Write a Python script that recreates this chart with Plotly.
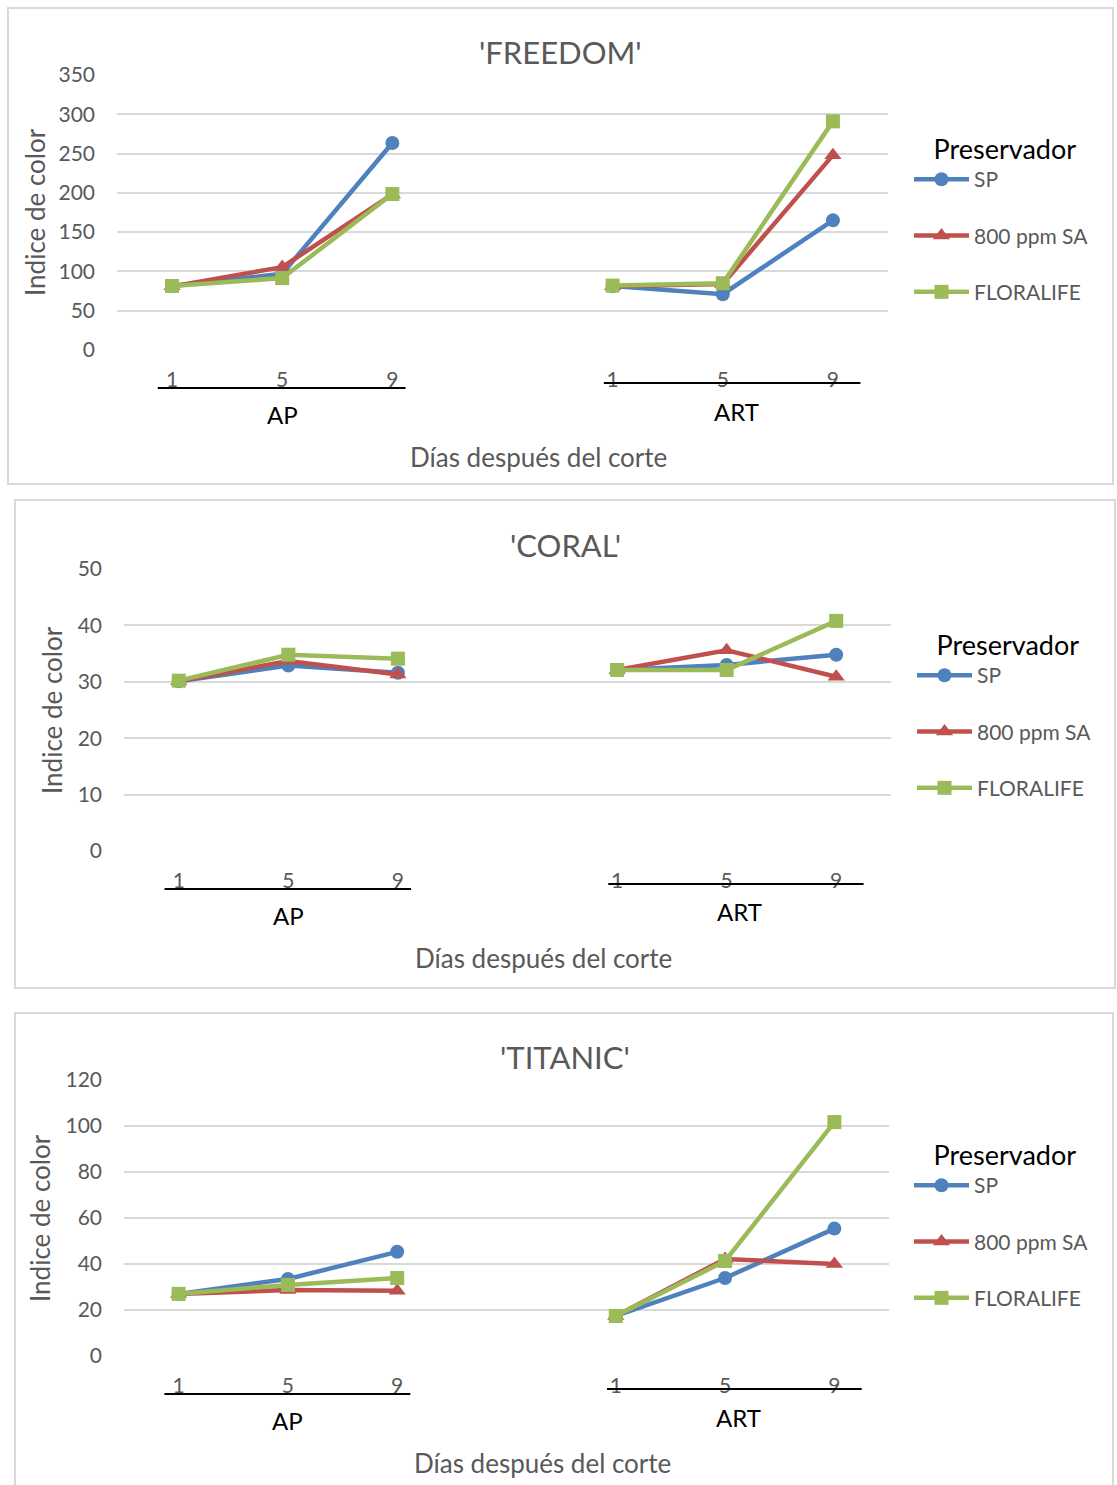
import plotly.graph_objects as go

W, H = 1117, 1485
FONT = "Lato"
GREY = "#595959"
GRID = "#D9D9D9"

# ---------------- data ----------------
groups = ["AP", "ART"]
days = ["1", "5", "9"]
series = ["SP", "800 ppm SA", "FLORALIFE"]
colors = ["#4F81BD", "#C0504D", "#9BBB59"]
symbols = ["circle", "triangle-up", "square"]

titles = ["'FREEDOM'", "'CORAL'", "'TITANIC'"]

freedom_sp = [81.5, 97, 263.5, 81.5, 71, 165]
freedom_sa = [81, 105.5, 198, 81, 84, 248]
freedom_fl = [81.5, 91.5, 198.5, 82, 85, 291]

coral_sp = [30.1, 32.9, 31.6, 32.1, 33.0, 34.8]
coral_sa = [30.1, 33.7, 31.3, 32.1, 35.6, 30.9]
coral_fl = [30.2, 34.8, 34.1, 32.1, 32.1, 40.8]

titanic_sp = [27.0, 33.5, 45.3, 17.4, 33.9, 55.4]
titanic_sa = [27.0, 28.7, 28.4, 17.4, 42.2, 40.0]
titanic_fl = [27.0, 30.9, 33.9, 17.4, 41.3, 101.7]

panel_data = [
    [freedom_sp, freedom_sa, freedom_fl],
    [coral_sp, coral_sa, coral_fl],
    [titanic_sp, titanic_sa, titanic_fl],
]
y_max = [350, 50, 120]
y_step = [50, 10, 20]

# ---------------- layout geometry (target page pixels) ----------------
plot_px = [
    (117, 888, 75, 350),
    (124, 891, 569, 851),
    (124, 889, 1080, 1356),
]
boxes = [(8, 8, 1113, 484), (15, 500, 1115, 988), (15, 1013, 1113, 1500)]
title_px = [(560, 52), (565, 545), (565, 1057)]
ytitle_px = [(35, 212), (52, 710), (40, 1218)]
legend_px = [(909, 124), (912, 620), (909, 1130)]


def fx(p):
    return p / W


def fy(p):
    return 1 - p / H


fig = go.Figure()
shapes = []
annotations = []

for i in range(3):
    x0, x1, yt, yb = plot_px[i]
    xa = "xaxis" if i == 0 else f"xaxis{i+1}"
    ya = "yaxis" if i == 0 else f"yaxis{i+1}"
    xr = "x" if i == 0 else f"x{i+1}"
    yr = "y" if i == 0 else f"y{i+1}"
    lg = "legend" if i == 0 else f"legend{i+1}"

    # x positions: categories of each group, with an empty slot between groups
    xs, labels = [], []
    for g in range(len(groups)):
        for d in range(len(days)):
            xs.append(g * (len(days) + 1) + d)
            labels.append(days[d])
    ncat = len(groups) * (len(days) + 1) - 1

    for s in range(3):
        vals = panel_data[i][s]
        px_, py_ = [], []
        for g in range(len(groups)):
            if g > 0:
                px_.append(g * (len(days) + 1) - 1)
                py_.append(None)
            for d in range(len(days)):
                px_.append(xs[g * len(days) + d])
                py_.append(vals[g * len(days) + d])
        fig.add_trace(go.Scatter(
            x=px_, y=py_, mode="lines+markers", name=series[s],
            line=dict(color=colors[s], width=4.5),
            marker=dict(symbol=symbols[s], size=14 if s != 1 else 15, color=colors[s]),
            connectgaps=False, xaxis=xr, yaxis=yr, legend=lg,
            legendgroup=f"{i}-{s}", showlegend=True,
        ))

    fig.layout[xa] = dict(
        domain=[fx(x0), fx(x1)], range=[-0.5, ncat - 0.5], anchor=yr,
        tickvals=xs, ticktext=labels, showgrid=False, zeroline=False,
        showline=False, ticks="", ticklabelstandoff=15, automargin=False,
        tickfont=dict(family=FONT, size=21, color=GREY), fixedrange=True,
    )
    fig.layout[ya] = dict(
        domain=[fy(yb), fy(yt)], range=[0, y_max[i]], anchor=xr,
        dtick=y_step[i], showgrid=True, gridcolor=GRID, gridwidth=2,
        zeroline=False, showline=False, ticks="", ticklabelstandoff=21,
        automargin=False,
        tickfont=dict(family=FONT, size=21, color=GREY), fixedrange=True,
    )

    # underline of group categories and group labels
    base_px = yb
    for g, grp in enumerate(groups):
        c0 = g * (len(days) + 1)
        lx0 = c0 - 0.13 if g == 0 else c0 - 0.08
        lx1 = c0 + 2.12 if g == 0 else c0 + 2.25
        ly = base_px + (38 if g == 0 else 33)
        shapes.append(dict(type="line", xref=xr, yref="paper",
                           x0=lx0, x1=lx1, y0=fy(ly), y1=fy(ly),
                           line=dict(color="black", width=2)))
        annotations.append(dict(
            x=c0 + 1 + (0.12 if g == 1 else 0), xref=xr,
            y=fy(base_px + (64 if g == 0 else 61)), yref="paper",
            text=grp, showarrow=False, xanchor="center", yanchor="middle",
            font=dict(family=FONT, size=24, color="black")))

    # x-axis title
    annotations.append(dict(
        x=fx((boxes[i][0] + boxes[i][2]) / 2 - 22), y=fy(base_px + 107),
        xref="paper", yref="paper", text="Días después del corte",
        showarrow=False, xanchor="center", yanchor="middle",
        font=dict(family=FONT, size=26, color=GREY)))
    # y-axis title
    annotations.append(dict(
        x=fx(ytitle_px[i][0]), y=fy(ytitle_px[i][1]), xref="paper", yref="paper",
        text="Indice de color", textangle=-90, showarrow=False,
        xanchor="center", yanchor="middle",
        font=dict(family=FONT, size=26, color=GREY)))
    # chart title
    annotations.append(dict(
        x=fx(title_px[i][0]), y=fy(title_px[i][1]), xref="paper", yref="paper",
        text=titles[i], showarrow=False, xanchor="center", yanchor="middle",
        font=dict(family=FONT, size=31, color=GREY)))

    # box border
    bx0, by0, bx1, by1 = boxes[i]
    shapes.append(dict(type="rect", xref="paper", yref="paper",
                       x0=fx(bx0), x1=fx(bx1), y0=fy(by1), y1=fy(by0),
                       line=dict(color=GRID, width=2), layer="below"))

    fig.layout[lg] = dict(
        x=fx(legend_px[i][0]), y=fy(legend_px[i][1]), xanchor="left", yanchor="top",
        title=dict(text="\u2002\u2004Preservador", side="top",
                   font=dict(family=FONT, size=27, color="black")),
        font=dict(family=FONT, size=21, color=GREY),
        tracegroupgap=26, itemwidth=55, bgcolor="rgba(0,0,0,0)",
        borderwidth=0, itemclick=False, itemdoubleclick=False,
    )

fig.update_layout(
    width=W, height=H, margin=dict(l=0, r=0, t=0, b=0, pad=0, autoexpand=False),
    paper_bgcolor="white", plot_bgcolor="white",
    shapes=shapes, annotations=annotations,
    font=dict(family=FONT, color=GREY),
)

fig.write_html("out.html")
